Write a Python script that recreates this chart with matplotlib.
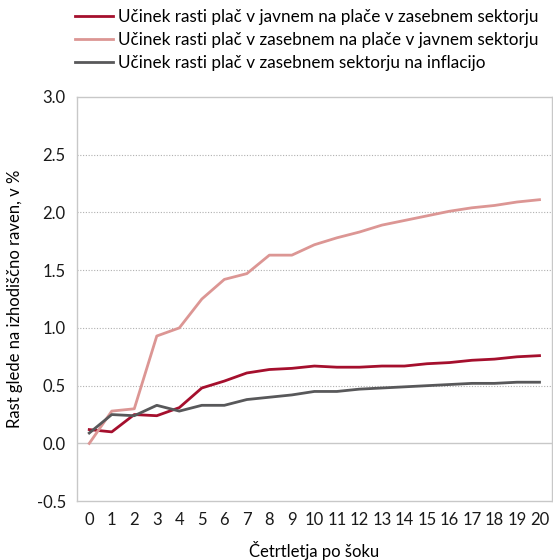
import matplotlib
matplotlib.use('Agg')
import matplotlib.pyplot as plt

plt.rcParams['font.family'] = ['Lato', 'DejaVu Sans']

# ------------------------------------------------------------------
# data
# ------------------------------------------------------------------
quarters = list(range(21))
public_on_private = [0.12, 0.10, 0.25, 0.24, 0.31, 0.48, 0.54, 0.61, 0.64, 0.65, 0.67,
                     0.66, 0.66, 0.67, 0.67, 0.69, 0.70, 0.72, 0.73, 0.75, 0.76]
private_on_public = [0.00, 0.28, 0.30, 0.93, 1.00, 1.25, 1.42, 1.47, 1.63, 1.63, 1.72,
                     1.78, 1.83, 1.89, 1.93, 1.97, 2.01, 2.04, 2.06, 2.09, 2.11]
private_on_inflation = [0.09, 0.25, 0.24, 0.33, 0.28, 0.33, 0.33, 0.38, 0.40, 0.42, 0.45,
                        0.45, 0.47, 0.48, 0.49, 0.50, 0.51, 0.52, 0.52, 0.53, 0.53]
labels = ['Učinek rasti plač v javnem na plače v zasebnem sektorju',
          'Učinek rasti plač v zasebnem na plače v javnem sektorju',
          'Učinek rasti plač v zasebnem sektorju na inflacijo']
colors = ['#A50F2D', '#DC9694', '#58585A']

fig = plt.figure(figsize=(5.53, 5.60), dpi=100)
ax = fig.add_axes([0.139, 0.105, 0.859, 0.722])

# grid + zero line
for y in [0.5, 1.0, 1.5, 2.0, 2.5]:
    ax.axhline(y, color='#B0B0B0', lw=0.8, ls=(0, (1, 1.5)), zorder=1)
ax.axhline(0, color='#C8C8C8', lw=1.0, zorder=1)

series = [public_on_private, private_on_public, private_on_inflation]
for vals, lab, c in zip(series, labels, colors):
    ax.plot(quarters, vals, color=c, lw=2.0, label=lab, zorder=3)

ax.set_xlim(-0.55, 20.55)
ax.set_ylim(-0.5, 3.0)
ax.set_xticks(quarters)
ax.set_yticks([-0.5, 0.0, 0.5, 1.0, 1.5, 2.0, 2.5, 3.0])
ax.set_yticklabels(['-0.5', '0.0', '0.5', '1.0', '1.5', '2.0', '2.5', '3.0'])
ax.tick_params(length=0, labelsize=12, colors='#1a1a1a', pad=8)
for s in ax.spines.values():
    s.set_color('#C8C8C8')
    s.set_linewidth(1.0)

ax.set_ylabel('Rast glede na izhodiščno raven, v %', fontsize=12, labelpad=10)
ax.set_xlabel('Četrtletja po šoku', fontsize=12, labelpad=9)

fig.legend(loc='upper left', bbox_to_anchor=(0.1356, 0.984), frameon=False,
           fontsize=12.3, handlelength=2.2, handletextpad=0.3, labelspacing=0.42,
           borderpad=0, borderaxespad=0)

fig.savefig('out.png', dpi=100)
